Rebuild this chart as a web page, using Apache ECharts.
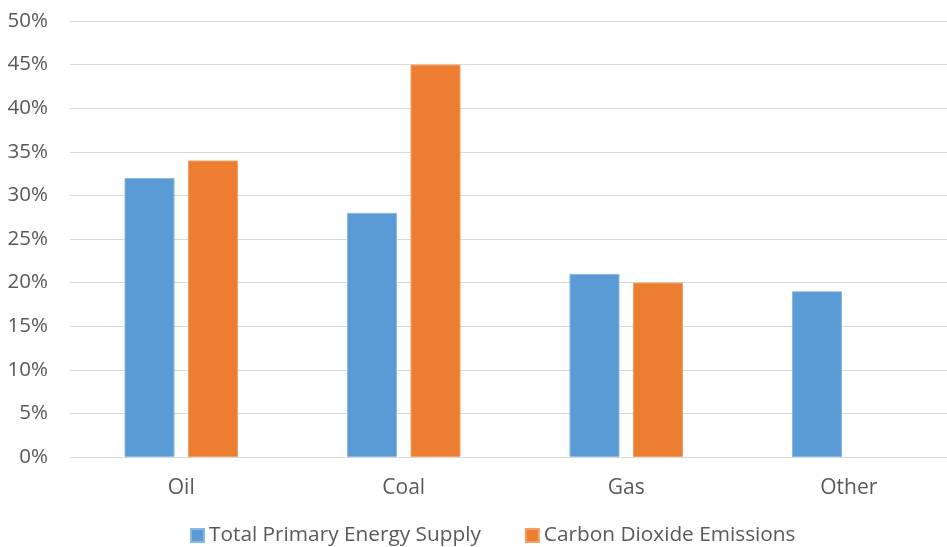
<!DOCTYPE html>
<html>
<head>
<meta charset="utf-8">
<script src="https://cdn.jsdelivr.net/npm/echarts@6/dist/echarts.min.js"></script>
<style>
  html, body { margin: 0; padding: 0; background: #fff; }
  #chart { width: 947px; height: 547px; }
</style>
</head>
<body>
<div id="chart"></div>
<script>
// Share of each fuel (percent)
const categories = ['Oil', 'Coal', 'Gas', 'Other'];
const energySupply = [32, 28, 21, 19];
const co2Emissions = [34, 45, 20, null];
const seriesNames = ['Total Primary Energy Supply', 'Carbon Dioxide Emissions'];

const textColor = '#595959';
const fontFamily = '"Open Sans", "Noto Sans", sans-serif';

const chart = echarts.init(document.getElementById('chart'));
chart.setOption({
  animation: false,
  textStyle: { fontFamily: fontFamily },
  grid: { left: 70, top: 21, right: -13, bottom: 90, containLabel: false, outerBoundsMode: 'none' },
  legend: {
    bottom: -4,
    left: 190,
    padding: [5, 0],
    itemWidth: 13,
    itemHeight: 13,
    itemGap: 44,
    icon: 'rect',
    textStyle: { color: textColor, fontSize: 20.8, fontFamily: fontFamily },
    data: seriesNames
  },
  xAxis: {
    type: 'category',
    data: categories,
    axisLine: { lineStyle: { color: '#d9d9d9', width: 1 } },
    axisTick: { show: false },
    axisLabel: { color: textColor, fontSize: 21, margin: 21 }
  },
  yAxis: {
    type: 'value',
    min: 0,
    max: 50,
    interval: 5,
    axisLine: { show: false },
    axisTick: { show: false },
    splitLine: { lineStyle: { color: '#d9d9d9', width: 1 } },
    axisLabel: { color: textColor, fontSize: 20.5, margin: 22, formatter: '{value}%' }
  },
  series: [
    {
      name: seriesNames[0],
      type: 'bar',
      data: energySupply,
      barWidth: 50,
      barGap: '27%',
      itemStyle: { color: '#5B9BD5', borderColor: '#8ab8e3', borderWidth: 1 }
    },
    {
      name: seriesNames[1],
      type: 'bar',
      data: co2Emissions,
      barWidth: 50,
      itemStyle: { color: '#ED7D31', borderColor: '#f2a06a', borderWidth: 1 }
    }
  ]
});
</script>
</body>
</html>
